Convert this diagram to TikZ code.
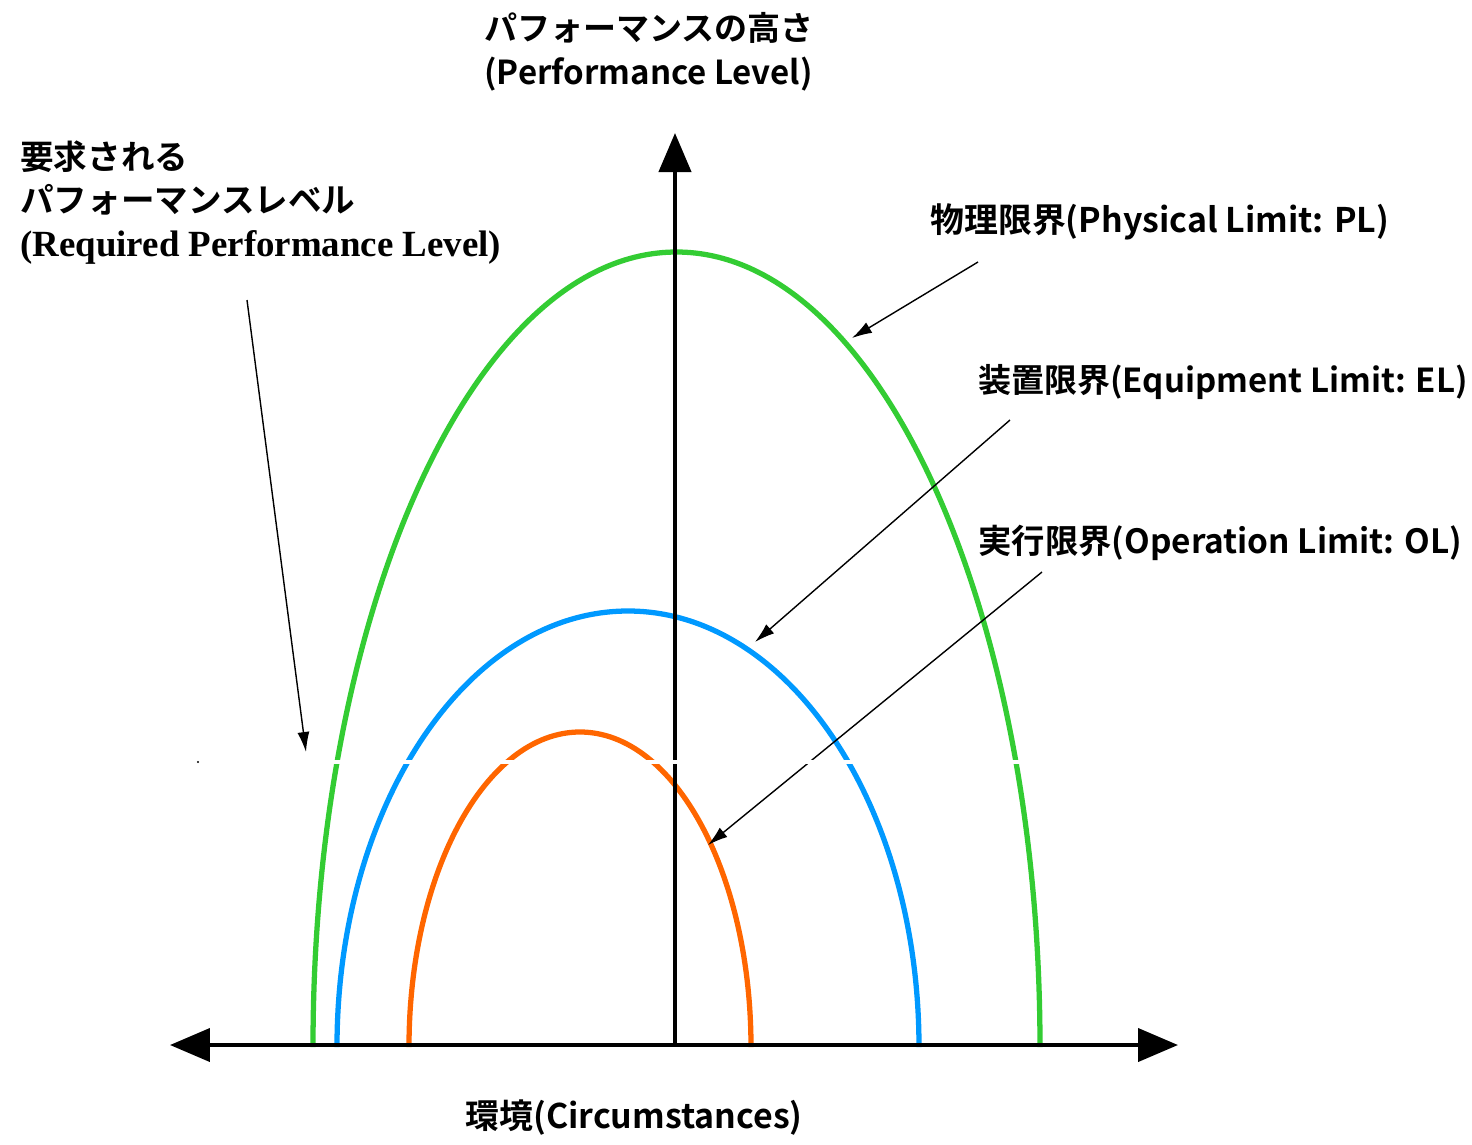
\documentclass[tikz,border=0pt]{standalone}
\usepackage{fontspec}
\setmainfont{Liberation Serif}
\newfontfamily\jp{Noto Sans CJK JP Bold}
\IfFontExistsTF{LiberationSerif-Bold}{\newfontfamily\reqfont{LiberationSerif-Bold}}{\newfontfamily\reqfont{Liberation Serif}[FakeBold=2]}
\usetikzlibrary{arrows.meta}
\definecolor{plgreen}{RGB}{51,204,51}
\definecolor{elblue}{RGB}{0,153,255}
\definecolor{olorange}{RGB}{255,102,0}
\tikzset{
  limit/.style={line width=3pt},
  axis/.style={line width=2.4pt},
  callout/.style={line width=0.8pt,-{Latex[length=0.4cm,width=0.24cm]}},
  lbl/.style={anchor=west,inner sep=0pt,font=\jp\fontsize{19.3}{25}\selectfont},
}
\begin{document}
\begin{tikzpicture}[x=0.02cm,y=-0.02cm]
\useasboundingbox (0,0) rectangle (1472,1144);
% limits
\draw[limit,plgreen] (313,1047) arc[start angle=180,end angle=360,x radius=363.5,y radius=795];
\draw[limit,elblue] (337,1047) arc[start angle=180,end angle=360,x radius=291,y radius=436];
\draw[limit,olorange] (409,1047) arc[start angle=180,end angle=360,x radius=171,y radius=315];
% axes
\coordinate (o) at (675,1045);
\coordinate (top) at (675,133);
\coordinate (xl) at (170,1045);
\coordinate (xr) at (1178,1045);
\draw[axis,-{Triangle[length=0.78cm,width=0.64cm]}] (o)--(top);
\draw[axis,{Triangle[length=0.8cm,width=0.66cm]}-{Triangle[length=0.8cm,width=0.66cm]}] (xl)--(xr);
% labels
\node[lbl,anchor=north west,align=left,font=\jp\fontsize{18.8}{25}\selectfont] (perf) at (484,12) {パフォーマンスの高さ\\(Performance Level)};
\node[lbl,anchor=north west,align=left,font=\fontsize{21}{25}\selectfont] (req) at (20,140) {{\jp\fontsize{19.1}{25}\selectfont 要求される}\\{\jp\fontsize{19.1}{25}\selectfont パフォーマンスレベル}\\{\reqfont (Required Performance Level)}};
\node[lbl] (pl) at (930,222) {物理限界(Physical Limit: PL)};
\node[lbl,font=\jp\fontsize{18.8}{25}\selectfont] (el) at (978,382) {装置限界(Equipment Limit: EL)};
\node[lbl,font=\jp\fontsize{19}{25}\selectfont] (ol) at (978,543) {実行限界(Operation Limit: OL)};
\node[lbl,anchor=center] (env) at (634,1118) {環境(Circumstances)};
% callouts
\coordinate (reqa) at (247,300); \coordinate (reqb) at (306,752);
\coordinate (pla) at (978,262); \coordinate (plb) at (852,338);
\coordinate (ela) at (1010,420); \coordinate (elb) at (755,642);
\coordinate (ola) at (1042,572); \coordinate (olb) at (708,845);
\draw[callout] (reqa)--(reqb);
\draw[callout] (pla)--(plb);
\draw[callout] (ela)--(elb);
\draw[callout] (ola)--(olb);
% required level (white)
\draw[white,line width=1.8pt] (200,762)--(1030,762);
\fill (198,762) circle (1.2);
\end{tikzpicture}
\end{document}
